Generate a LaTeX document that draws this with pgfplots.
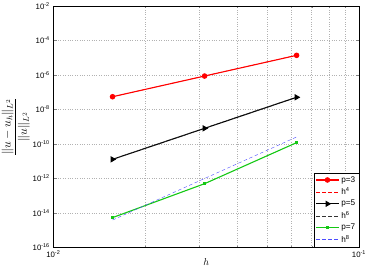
\documentclass[border=0pt]{standalone}
\usepackage{fontspec}
\setmainfont{Liberation Sans}
\usepackage{pgfplots}
\pgfplotsset{compat=1.18}
\definecolor{mygreen}{RGB}{20,200,20}
\begin{document}
\begin{tikzpicture}
\path[use as bounding box] (-53.3pt,-25.5pt) rectangle (312.7pt,247.5pt);
\begin{axis}[
  scale only axis, width=305.7pt, height=241.5pt,
  xmode=log, ymode=log,
  xmin=0.01, xmax=0.1, ymin=1e-16, ymax=1e-2,
  xtick={0.01,0.1},
  ytick={1e-16,1e-14,1e-12,1e-10,1e-8,1e-6,1e-4,1e-2},
  yminorticks=false,
  xmajorgrids, xminorgrids, ymajorgrids,
  grid style={dotted, gray!60, line width=0.4pt},
  major tick length=3.5pt, minor tick length=2pt,
  tick label style={font=\fontsize{7.8}{9}\selectfont},
  xticklabel={10\textsuperscript{\pgfmathparse{int(round(\tick/ln(10)))}\pgfmathresult}},
  yticklabel={10\textsuperscript{\pgfmathparse{int(round(\tick/ln(10)))}\pgfmathresult}},
  ylabel={$\displaystyle\frac{\|u-u_h\|_{L^2}}{\|u\|_{L^2}}$},
  ylabel style={at={(axis description cs:-0.123,0.5)}, anchor=center, font=\fontsize{12}{14}\selectfont},
  xlabel={$h$},
  xlabel style={at={(axis description cs:0.5,-0.06)}, anchor=center, font=\fontsize{10}{12}\selectfont},
  legend style={at={(1,0)}, anchor=south east, draw=black, fill=white,
    font=\fontsize{8.2}{9.5}\selectfont, inner sep=1.5pt, row sep=0.2pt},
  legend cell align=left,
  legend image code/.code={\draw[mark repeat=2,mark phase=2,#1] plot coordinates {(0cm,0cm) (0.4cm,0cm) (0.8cm,0cm)};},
]
\addplot[red, line width=1.1pt, mark=*, mark size=2.2pt] coordinates {(0.015625,5.5e-8) (0.03125,8.7e-7) (0.0625,1.38e-5)};
\addlegendentry{p=3}
\addplot[red, line width=0.4pt, dash pattern=on 3.5pt off 2.5pt] coordinates {(0.015625,5.5e-8) (0.03125,8.8e-7) (0.0625,1.41e-5)};
\addlegendentry{h\textsuperscript{4}}
\addplot[black, line width=1.1pt, mark=triangle*, mark size=2.6pt, mark options={rotate=-90}] coordinates {(0.015625,1.29e-11) (0.03125,8.1e-10) (0.0625,5.1e-8)};
\addlegendentry{p=5}
\addplot[black!80, line width=0.4pt, dash pattern=on 3.5pt off 2.5pt] coordinates {(0.015625,1.29e-11) (0.03125,8.26e-10) (0.0625,5.28e-8)};
\addlegendentry{h\textsuperscript{6}}
\addplot[mygreen, line width=1.1pt, mark=square*, mark size=1.2pt] coordinates {(0.015625,5.4e-15) (0.03125,5.0e-13) (0.0625,1.2e-10)};
\addlegendentry{p=7}
\addplot[blue!70, line width=0.4pt, dash pattern=on 3.5pt off 2.5pt] coordinates {(0.015625,3.9e-15) (0.03125,1.0e-12) (0.0625,2.56e-10)};
\addlegendentry{h\textsuperscript{8}}
\end{axis}
\end{tikzpicture}
\end{document}
